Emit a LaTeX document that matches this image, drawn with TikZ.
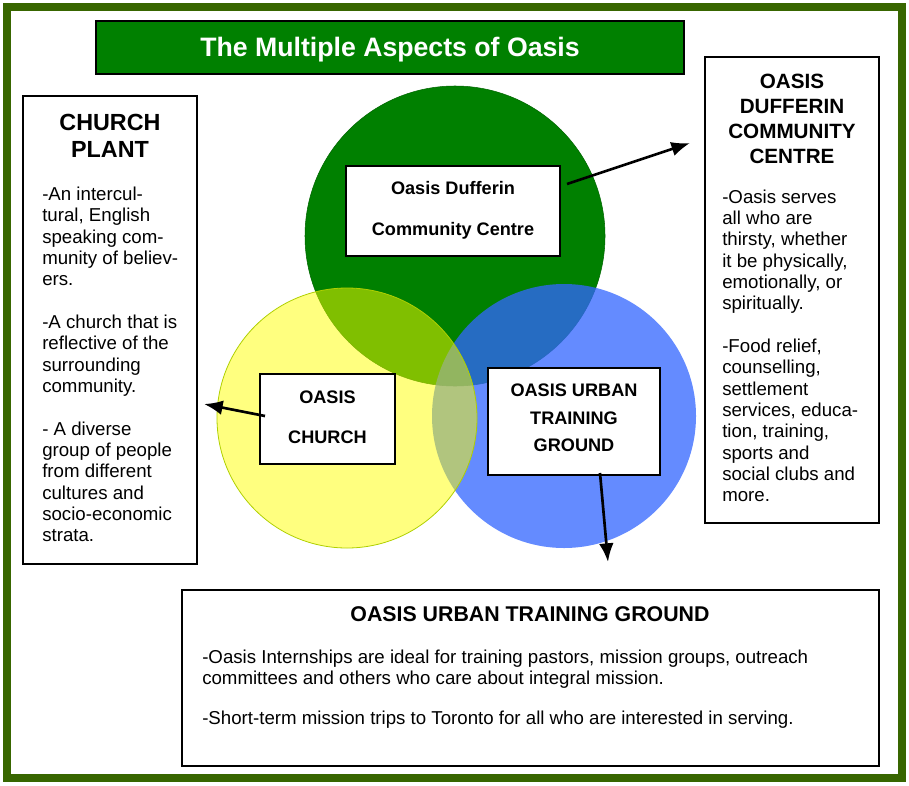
\documentclass[tikz,border=0pt]{standalone}
\usepackage{fontspec}
\setmainfont{Liberation Sans}
\usetikzlibrary{arrows.meta}

\definecolor{framegreen}{RGB}{56,102,0}
\definecolor{oasisgreen}{RGB}{0,128,0}
\definecolor{oasisblue}{RGB}{51,102,255}
\definecolor{oasisyellow}{RGB}{255,255,0}
\definecolor{yellowedge}{RGB}{176,208,0}

\begin{document}
\begin{tikzpicture}[x=0.75pt,y=-0.75pt,
  box/.style={draw=black,line width=1.5pt,fill=white},
  body/.style={anchor=north west,align=left,inner sep=0pt,font=\fontsize{14}{16}\selectfont},
  heading/.style={anchor=north,align=center,inner sep=0pt,font=\bfseries\fontsize{15.5}{18.7}\selectfont},
  circletext/.style={anchor=north,align=center,inner sep=0pt,font=\bfseries\fontsize{13.6}{30.75}\selectfont}]
\tikzstyle{pointer} = [draw,line width=2pt,-{Latex[length=14pt,width=11pt]}]

\useasboundingbox (0,0) rectangle (909,785);

% Frame and title
\draw[framegreen,line width=6pt] (7,7) rectangle (902,778);
\filldraw[box,fill=oasisgreen] (96,21) rectangle (684,74);
\node[anchor=base,inner sep=0pt,text=white,font=\bfseries\fontsize{20}{24}\selectfont] (title) at (390,56.7) {The Multiple Aspects of Oasis};

% Circles
\filldraw[draw=oasisgreen!80!black,line width=0.4pt,fill=oasisgreen] (455,236) circle (150);
\fill[oasisblue,opacity=0.76] (564,416) circle (132);
\filldraw[draw=yellowedge,line width=0.6pt,fill=oasisyellow,fill opacity=0.5] (347,418) circle (130);

\filldraw[box] (346,166) rectangle (560,256);
\node[circletext] (dufferin) at (453,181.5) {Oasis Dufferin\\Community Centre};

\filldraw[box] (260,374) rectangle (395,464);
\node[circletext,font=\bfseries\fontsize{13.6}{30}\selectfont] (church) at (327.5,390.5) {OASIS\\CHURCH};

\filldraw[box] (488,368) rectangle (660,475);
\node[circletext,font=\bfseries\fontsize{13.6}{20.6}\selectfont] (urban) at (574,384) {OASIS URBAN\\TRAINING\\GROUND};

% Church plant
\filldraw[box] (23,96) rectangle (197,564);
\node[heading,font=\bfseries\fontsize{17.5}{20.5}\selectfont] (planthead) at (110,113.5) {CHURCH\\PLANT};
\node[body] (plantbody) at (42,186.6) {-An intercul-\\tural, English\\speaking com-\\munity of believ-\\ers.\\[16pt]-A church that is\\reflective of the\\surrounding\\community.\\[16pt]- A diverse\\group of people\\from different\\cultures and\\socio-economic\\strata.};

% Community centre
\filldraw[box] (705,57) rectangle (879,523);
\node[heading] (centrehead) at (792,73.5) {OASIS\\DUFFERIN\\COMMUNITY\\CENTRE};
\node[body] (centrebody) at (722,189.2) {-Oasis serves\\all who are\\thirsty, whether\\it be physically,\\emotionally, or\\spiritually.\\[16pt]-Food relief,\\counselling,\\settlement\\services, educa-\\tion, training,\\sports and\\social clubs and\\more.};

% Training ground
\filldraw[box] (182,590) rectangle (879,766);
\node[anchor=base,inner sep=0pt,font=\bfseries\fontsize{16}{19}\selectfont] (groundhead) at (530,621.5) {OASIS URBAN TRAINING GROUND};
\node[body] (groundbody) at (202,649.6) {-Oasis Internships are ideal for training pastors, mission groups, outreach\\committees and others who care about integral mission.\\[14pt]-Short-term mission trips to Toronto for all who are interested in serving.};

% Pointers
\coordinate (dufferinout) at (567,184);
\coordinate (dufferintip) at (690,143);
\coordinate (churchout) at (265,416);
\coordinate (churchtip) at (204,404);
\coordinate (urbanout) at (600,473);
\coordinate (urbantip) at (608,562);
\draw[pointer] (dufferinout) -- (dufferintip);
\draw[pointer] (churchout) -- (churchtip);
\draw[pointer] (urbanout) -- (urbantip);

\end{tikzpicture}
\end{document}
